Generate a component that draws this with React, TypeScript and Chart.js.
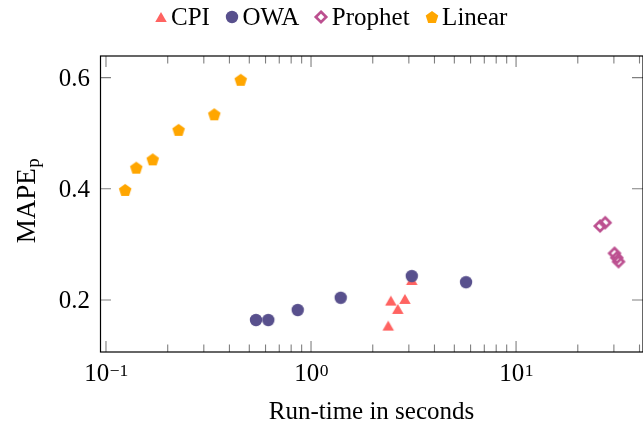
import React, { useEffect, useRef } from 'react';
import { Chart, registerables } from 'chart.js';

Chart.register(...registerables);

// ---------- data ----------
const seriesNames = ['CPI', 'OWA', 'Prophet', 'Linear'];
const seriesColors = ['#ff6361', '#58508d', '#bc5090', '#ffa600'];
const seriesMarkers = ['triangle', 'circle', 'diamond', 'pentagon'];

const cpiTime = [2.45, 2.87, 2.65, 2.38, 3.1];
const cpiMape = [0.199, 0.202, 0.184, 0.154, 0.236];
const owaTime = [0.539, 0.619, 0.861, 1.396, 3.1, 5.7];
const owaMape = [0.164, 0.164, 0.182, 0.204, 0.243, 0.232];
const prophetTime = [25.7, 27.2, 30.2, 31.0, 31.6];
const prophetMape = [0.333, 0.339, 0.284, 0.276, 0.269];
const linearTime = [0.124, 0.1405, 0.169, 0.226, 0.3375, 0.454];
const linearMape = [0.398, 0.438, 0.453, 0.506, 0.534, 0.596];

const xTickValues = [0.1, 1, 10];
const xTickBases = ['10', '10', '10'];
const xTickExponents = ['\u22121', '0', '1'];
const yTickValues = [0.2, 0.4, 0.6];
const yTickLabels = ['0.2', '0.4', '0.6'];
const xTitle = 'Run-time in seconds';
const yTitleMain = 'MAPE';
const yTitleSub = 'p';

const X_MIN = 0.0935;
const X_MAX = 41.6;
const Y_MIN = 0.1065;
const Y_MAX = 0.6388;

const FS = 25;
const FONT_FAMILY = '"Liberation Serif", "Times New Roman", serif';

function makeMarker(kind: string, color: string): HTMLCanvasElement {
  const S = 16;
  const c = document.createElement('canvas');
  c.width = S;
  c.height = S;
  const g = c.getContext('2d')!;
  const cx = S / 2;
  const cy = S / 2;
  g.fillStyle = color;
  g.strokeStyle = color;
  g.beginPath();
  if (kind === 'circle') {
    g.arc(cx, cy, 6.2, 0, Math.PI * 2);
    g.fill();
  } else if (kind === 'triangle') {
    const w = 11.5;
    const h = 10;
    g.moveTo(cx, cy - h / 2);
    g.lineTo(cx + w / 2, cy + h / 2);
    g.lineTo(cx - w / 2, cy + h / 2);
    g.closePath();
    g.fill();
  } else if (kind === 'diamond') {
    const r = 5.2;
    g.lineWidth = 2.7;
    g.lineJoin = 'miter';
    g.moveTo(cx, cy - r);
    g.lineTo(cx + r, cy);
    g.lineTo(cx, cy + r);
    g.lineTo(cx - r, cy);
    g.closePath();
    g.stroke();
  } else {
    const r = 6.6;
    for (let i = 0; i < 5; i++) {
      const a = -Math.PI / 2 + (i * 2 * Math.PI) / 5;
      const px = cx + r * Math.cos(a);
      const py = cy + 0.6 + r * Math.sin(a);
      if (i === 0) g.moveTo(px, py);
      else g.lineTo(px, py);
    }
    g.closePath();
    g.fill();
  }
  return c;
}

function font(size: number) {
  return `${size}px ${FONT_FAMILY}`;
}

export default function App() {
  const ref = useRef<HTMLCanvasElement | null>(null);

  useEffect(() => {
    if (!ref.current) return;
    const markers = seriesMarkers.map((k, i) => makeMarker(k, seriesColors[i]));
    const pairs = [
      [cpiTime, cpiMape],
      [owaTime, owaMape],
      [prophetTime, prophetMape],
      [linearTime, linearMape],
    ];
    const orders = [2, 1, 3, 4];

    const datasets = pairs.map(([xs, ys], i) => ({
      label: seriesNames[i],
      data: xs.map((x, j) => ({ x, y: ys[j] })),
      pointStyle: markers[i],
      backgroundColor: seriesColors[i],
      borderColor: seriesColors[i],
      showLine: false,
      order: orders[i],
    }));

    const frame = {
      id: 'frame',
      beforeDatasetsDraw(chart: any) {
        const { ctx, chartArea: a, scales } = chart;
        const xs = scales.x;
        const ys = scales.y;
        ctx.save();
        ctx.strokeStyle = 'rgba(0,0,0,0.5)';
        ctx.lineWidth = 1.1;
        const major = 11;
        const minor = 7.5;
        const drawX = (v: number, len: number) => {
          const px = xs.getPixelForValue(v);
          if (px < a.left + 0.5 || px > a.right - 0.5) return;
          ctx.beginPath();
          ctx.moveTo(px, a.bottom);
          ctx.lineTo(px, a.bottom - len);
          ctx.moveTo(px, a.top);
          ctx.lineTo(px, a.top + len);
          ctx.stroke();
        };
        for (let e = -2; e <= 2; e++) {
          for (let m = 2; m <= 9; m++) {
            const v = m * Math.pow(10, e);
            if (v < X_MIN || v > X_MAX) continue;
            drawX(v, minor);
          }
        }
        xTickValues.forEach((v) => drawX(v, major));
        yTickValues.forEach((v) => {
          const py = ys.getPixelForValue(v);
          ctx.beginPath();
          ctx.moveTo(a.left, py);
          ctx.lineTo(a.left + major, py);
          ctx.moveTo(a.right, py);
          ctx.lineTo(a.right - major, py);
          ctx.stroke();
        });
        ctx.strokeStyle = '#000';
        ctx.lineWidth = 1.2;
        ctx.strokeRect(a.left + 0.5, a.top, a.right - a.left - 0.5, a.bottom - a.top);
        ctx.restore();
      },
      afterDraw(chart: any) {
        const { ctx, chartArea: a, scales } = chart;
        const xs = scales.x;
        const ys = scales.y;
        ctx.save();
        ctx.fillStyle = '#000';
        ctx.textBaseline = 'alphabetic';
        const capH = 0.66 * FS;
        ctx.font = font(FS);
        ctx.textAlign = 'right';
        yTickValues.forEach((v, i) => {
          const py = ys.getPixelForValue(v);
          ctx.fillText(yTickLabels[i], 90, py + capH / 2);
        });
        ctx.textAlign = 'left';
        const supFS = 17.5;
        xTickValues.forEach((v, i) => {
          const px = xs.getPixelForValue(v);
          ctx.font = font(FS);
          const wb = ctx.measureText(xTickBases[i]).width;
          ctx.font = font(supFS);
          const we = ctx.measureText(xTickExponents[i]).width;
          const start = px - (wb + we) / 2;
          ctx.font = font(FS);
          ctx.fillText(xTickBases[i], start, 381);
          ctx.font = font(supFS);
          ctx.fillText(xTickExponents[i], start + wb + 0.5, 376);
        });
        ctx.font = font(FS);
        ctx.textAlign = 'center';
        ctx.fillText(xTitle, (a.left + a.right) / 2, 419);
        // y title (rotated)
        const tFS = 27;
        const tSub = 19;
        ctx.textAlign = 'left';
        ctx.font = font(tFS);
        const wm = ctx.measureText(yTitleMain).width;
        ctx.font = font(tSub);
        const ws = ctx.measureText(yTitleSub).width;
        ctx.save();
        ctx.translate(35, 201);
        ctx.rotate(-Math.PI / 2);
        const s0 = -(wm + ws) / 2;
        ctx.font = font(tFS);
        ctx.fillText(yTitleMain, s0, 0);
        ctx.font = font(tSub);
        ctx.fillText(yTitleSub, s0 + wm + 0.5, 4);
        ctx.restore();
        // legend
        ctx.font = font(FS);
        let cursor = 155;
        const ly = 16.5;
        seriesNames.forEach((name, i) => {
          const mc = cursor + 5.5;
          const m = markers[i];
          ctx.drawImage(m, Math.round(mc - m.width / 2), Math.round(ly - m.height / 2));
          const tx = mc + 10.5;
          ctx.fillText(name, tx, ly + capH / 2);
          cursor = tx + ctx.measureText(name).width + 16.5;
        });
        ctx.restore();
      },
    };

    const chart = new Chart(ref.current, {
      type: 'scatter',
      data: { datasets },
      options: {
        animation: false,
        responsive: false,
        maintainAspectRatio: false,
        layout: { autoPadding: false, padding: { left: 100, top: 56, right: 0, bottom: 73 } },
        plugins: {
          legend: { display: false },
          tooltip: { enabled: false },
        },
        scales: {
          x: {
            type: 'logarithmic',
            min: X_MIN,
            max: X_MAX,
            display: false,
          },
          y: {
            type: 'linear',
            min: Y_MIN,
            max: Y_MAX,
            display: false,
          },
        },
      },
      plugins: [frame],
    } as any);

    return () => chart.destroy();
  }, []);

  return (
    <div style={{ position: 'fixed', left: 0, top: 0, width: 643, height: 425, background: '#fff' }}>
      <canvas ref={ref} width={643} height={425} style={{ width: 643, height: 425, display: 'block' }} />
    </div>
  );
}
